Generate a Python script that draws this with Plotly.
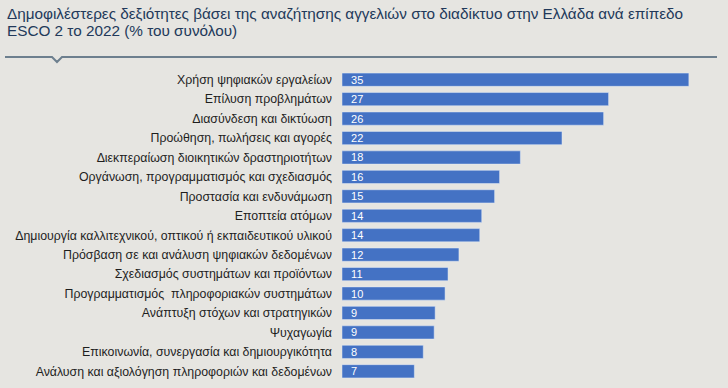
import plotly.graph_objects as go

categories = [
    "Χρήση ψηφιακών εργαλείων",
    "Επίλυση προβλημάτων",
    "Διασύνδεση και δικτύωση",
    "Προώθηση, πωλήσεις και αγορές",
    "Διεκπεραίωση διοικητικών δραστηριοτήτων",
    "Οργάνωση, προγραμματισμός και σχεδιασμός",
    "Προστασία και ενδυνάμωση",
    "Εποπτεία ατόμων",
    "Δημιουργία καλλιτεχνικού, οπτικού ή εκπαιδευτικού υλικού",
    "Πρόσβαση σε και ανάλυση ψηφιακών δεδομένων",
    "Σχεδιασμός συστημάτων και προϊόντων",
    "Προγραμματισμός  πληροφοριακών συστημάτων",
    "Ανάπτυξη στόχων και στρατηγικών",
    "Ψυχαγωγία",
    "Επικοινωνία, συνεργασία και δημιουργικότητα",
    "Ανάλυση και αξιολόγηση πληροφοριών και δεδομένων",
]
values = [35.0, 26.9, 26.4, 22.2, 18.0, 15.9, 15.4, 14.1, 13.9, 11.8, 10.7, 10.4, 9.4, 9.3, 8.2, 7.3]
value_labels = ["35", "27", "26", "22", "18", "16", "15", "14", "14", "12", "11", "10", "9", "9", "8", "7"]

title_lines = [
    "Δημοφιλέστερες δεξιότητες βάσει της αναζήτησης αγγελιών στο διαδίκτυο στην Ελλάδα ανά επίπεδο",
    "ESCO 2 το 2022 (% του συνόλου)",
]

bg = "#e6e5e1"
W, H = 728, 388
l, r, t, b = 342, 10, 70, 7
pw, ph = W - l - r, H - t - b

fig = go.Figure(go.Bar(
    x=values,
    y=categories,
    orientation="h",
    marker=dict(color="#4472c4"),
    text=value_labels,
    texttemplate="\u00a0\u00a0%{text}",
    textposition="inside",
    insidetextanchor="start",
    textangle=0,
    textfont=dict(color="white", size=11, family="Liberation Sans, Arial"),
    width=0.68,
    hoverinfo="skip",
))

fig.update_layout(
    width=W, height=H,
    paper_bgcolor=bg, plot_bgcolor=bg,
    margin=dict(l=l, r=r, t=t, b=b, autoexpand=False),
    showlegend=False,
    font=dict(family="Liberation Sans, Arial", color="#333333"),
    xaxis=dict(range=[0, 37.94], visible=False, fixedrange=True, automargin=False),
    yaxis=dict(autorange="reversed", showgrid=False, zeroline=False, showline=False,
               ticks="", ticklabelstandoff=9, tickfont=dict(size=12.35, color="#1e1e1e"),
               fixedrange=True, automargin=False),
    uniformtext=dict(mode="show", minsize=11),
)

def px(x): return (x - l) / pw
def py(y): return (H - b - y) / ph

for line, yc in zip(title_lines, [13, 30.5]):
    fig.add_annotation(
        text=line, xref="paper", yref="paper",
        x=px(6), y=py(yc), xanchor="left", yanchor="middle", align="left",
        showarrow=False, borderpad=0,
        font=dict(size=15.3, color="#22395a", family="Liberation Sans, Arial"),
    )

# divider line with notch
pts = [(5, 57), (52, 57), (57, 62), (62, 57), (717, 57)]
path = "M " + " L ".join(f"{px(x):.5f},{py(y):.5f}" for x, y in pts)
fig.add_shape(type="path", xref="paper", yref="paper", layer="above",
              path=path, line=dict(color="#6d7f8e", width=2))

fig.write_html("out.html", config={"displayModeBar": False},
               post_script="document.body.style.margin='0';")
